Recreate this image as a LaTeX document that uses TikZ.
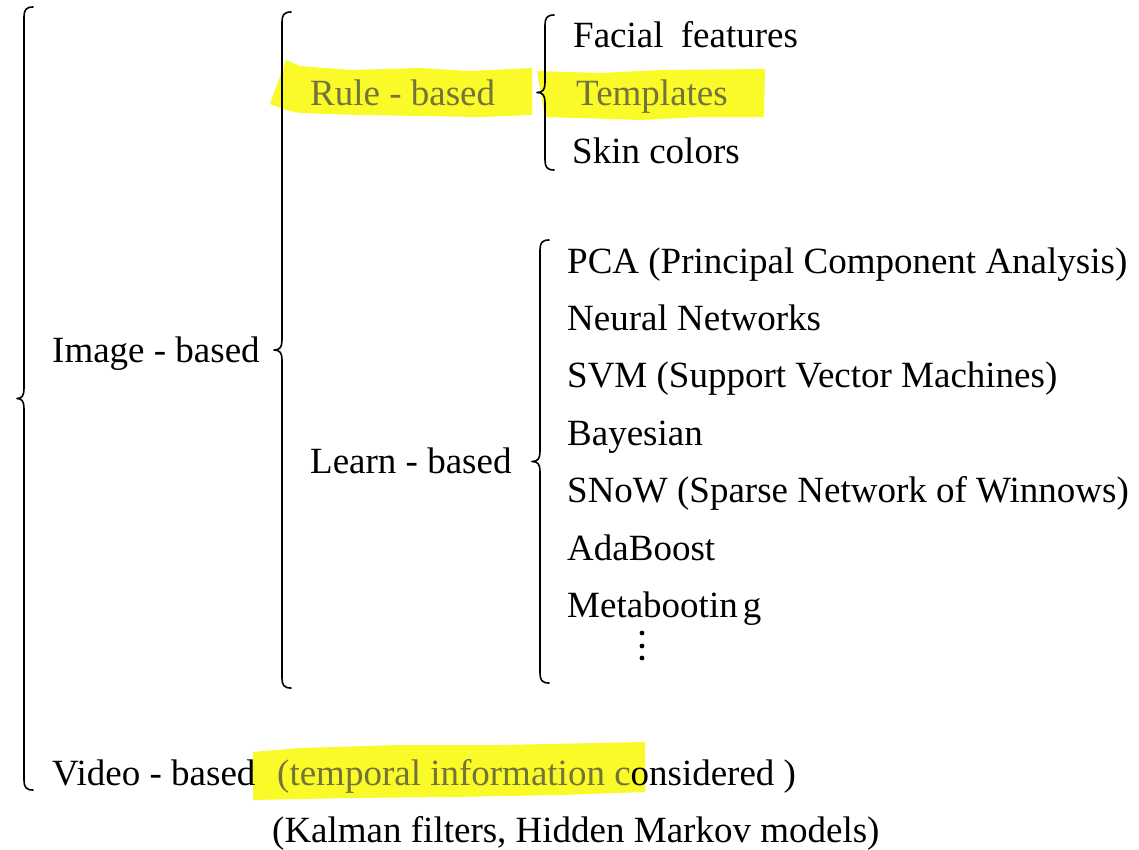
\documentclass[tikz,border=0pt]{standalone}
\usepackage{fontspec}
\setmainfont{Liberation Serif}
\usetikzlibrary{calc}

\definecolor{marker}{RGB}{250,250,40}
\definecolor{dimtext}{RGB}{115,115,60}

\tikzset{
  label/.style={anchor=base west, inner sep=0pt, font=\fontsize{37}{44}\selectfont},
  faded/.style={label, text=dimtext},
  bracestyle/.style={line width=1.6pt, line cap=round, line join=round},
  highlight/.style={fill=marker, draw=none}
}

% curly brace: x of the stem, top y, bottom y, depth of the centre tip
\newcommand\curlybrace[4]{%
  \pgfmathsetmacro\bmid{(#2+#3)/2}%
  \draw[bracestyle]
    (#1+9,#2) .. controls (#1+2,#2) and (#1,#2+3) .. (#1,#2+10)
    -- (#1,\bmid-10) .. controls (#1,\bmid-3) and (#1-2,\bmid) .. (#1-#4,\bmid)
    .. controls (#1-2,\bmid) and (#1,\bmid+3) .. (#1,\bmid+10)
    -- (#1,#3-10) .. controls (#1,#3-3) and (#1+2,#3) .. (#1+9,#3);}

\begin{document}
\begin{tikzpicture}[x=1pt, y=-1pt]
\useasboundingbox[fill=white] (0,0) rectangle (1139,849);

% marker strokes behind the faded texts
\fill[highlight] (270,104) -- (286,60) -- (300,66) -- (350,70) -- (420,68)
  -- (470,71) -- (532,68) -- (532,115) -- (480,117) -- (420,116)
  -- (360,115) -- (300,113) -- (286,110) -- cycle;
\fill[highlight] (537,71) -- (600,73) -- (660,70) -- (765,69) -- (764,117)
  -- (700,117) -- (640,120) -- (580,118) -- (545,117) -- cycle;
\fill[highlight] (253,752) -- (300,748) -- (400,745) -- (500,745) -- (645,742)
  -- (645,792) -- (560,795) -- (450,797) -- (350,798) -- (253,800) -- cycle;

% braces
\curlybrace{24}{7}{790}{7}
\curlybrace{282}{12}{688}{8}
\curlybrace{545}{15}{170}{8}
\curlybrace{540}{240}{683}{8}

% first level
\node[label] (image) at (52,362) {Image - based};
\node[label] (video) at (52,785) {Video - based};
\node[label] (temporal) at (277,785) {{\color{dimtext}(temporal information c}onsidered )};
\node[label] (kalman) at (272,842) {(Kalman filters, Hidden Markov models)};

% second level
\node[faded] (rule) at (310,105) {Rule - based};
\node[label] (learn) at (310,473) {Learn - based};

% rule-based items
\node[label] (facial) at (573,47) {Facial\hspace{8pt} features};
\node[faded] (templates) at (576,105) {Templates};
\node[label] (skin) at (572,163) {Skin colors};

% learn-based items
\node[label] (pca) at (567,273) {PCA (Principal Component Analysis)};
\node[label] (nn) at (567,330) {Neural Networks};
\node[label] (svm) at (567,387) {SVM (Support Vector Machines)};
\node[label] (bayes) at (567,445) {Bayesian};
\node[label] (snow) at (567,502) {SNoW (Sparse Network of Winnows)};
\node[label] (ada) at (567,560) {AdaBoost};
\node[label] (meta) at (567,617) {Metabootin\kern5pt g};

% continuation dots
\foreach \y in {633,646,658}
  \fill (642,\y) circle (2.4);
\end{tikzpicture}
\end{document}
